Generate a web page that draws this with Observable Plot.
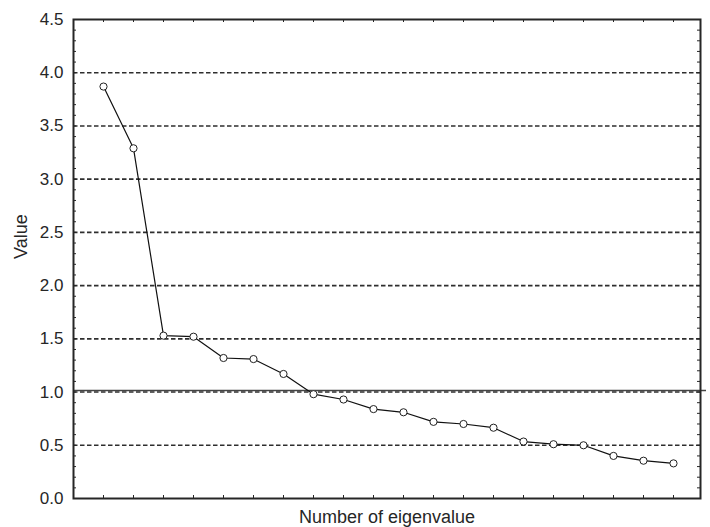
<!DOCTYPE html>
<html>
<head>
<meta charset="utf-8">
<script src="https://cdn.jsdelivr.net/npm/d3@7"></script>
<script src="https://cdn.jsdelivr.net/npm/@observablehq/plot@0.6"></script>
<style>
  html, body { margin: 0; padding: 0; background: #fff; }
  svg { display: block; }
</style>
</head>
<body>
<div id="chart"></div>
<script>
// Data
const eigenNumbers = [1, 2, 3, 4, 5, 6, 7, 8, 9, 10, 11, 12, 13, 14, 15, 16, 17, 18, 19, 20];
const eigenValues = [3.87, 3.29, 1.53, 1.52, 1.32, 1.31, 1.17, 0.98, 0.93, 0.84, 0.81, 0.72, 0.70, 0.665, 0.535, 0.51, 0.50, 0.40, 0.355, 0.33];
const yTickValues = [0, 0.5, 1.0, 1.5, 2.0, 2.5, 3.0, 3.5, 4.0, 4.5];
const gridValues = [0.5, 1.0, 1.5, 2.0, 2.5, 3.0, 3.5, 4.0];
const yMinorTicks = d3.range(0, 46).map(i => i / 10);
const criterionValue = [1.0];
const xLabel = "Number of eigenvalue";
const yLabel = "Value";

const data = eigenNumbers.map((n, i) => ({n, v: eigenValues[i]}));

const W = 710, H = 527;
const mL = 73, mR = 10, mT = 19, mB = 29;
const fw = W - mL - mR, fh = H - mT - mB;
const ink = "#262626";

const chart = Plot.plot({
  width: W,
  height: H,
  marginLeft: mL,
  marginRight: mR,
  marginTop: mT,
  marginBottom: mB,
  style: {fontFamily: "'Liberation Sans', Arial, sans-serif", fontSize: "17px", color: ink, background: "#fff"},
  x: {domain: [0, 20.9], axis: null},
  y: {domain: [0, 4.5], axis: null},
  marks: [
    // dashed grid
    Plot.ruleY(gridValues, {stroke: "#2e2e2e", strokeWidth: 1.6, strokeDasharray: "4.5,2.5"}),
    // criterion line at 1.0
    Plot.ruleY(criterionValue, {stroke: "#444", strokeWidth: 1.6, dy: -1.5, insetRight: -6}),
    // minor ticks left and right (inward)
    Plot.ruleY(yMinorTicks, {stroke: ink, strokeWidth: 1, insetRight: fw - 3}),
    Plot.ruleY(yMinorTicks, {stroke: ink, strokeWidth: 1, insetLeft: fw - 3}),
    // x ticks bottom and top (inward)
    Plot.ruleX(eigenNumbers, {stroke: ink, strokeWidth: 1, insetTop: fh - 3}),
    Plot.ruleX(eigenNumbers, {stroke: ink, strokeWidth: 1, insetBottom: fh - 3}),
    // y tick labels
    Plot.axisY({ticks: yTickValues, tickSize: 0, tickPadding: 10, tickFormat: d => d.toFixed(1), label: null, fontSize: 17}),
    // frame
    Plot.frame({stroke: ink, strokeWidth: 2}),
    // series
    Plot.line(data, {x: "n", y: "v", stroke: "#111", strokeWidth: 1.2}),
    Plot.dot(data, {x: "n", y: "v", r: 3.6, fill: "#fff", stroke: "#222", strokeWidth: 1}),
    // axis titles
    Plot.text([yLabel], {frameAnchor: "left", dx: -52, rotate: -90, fontSize: 18, fill: ink}),
    Plot.text([xLabel], {frameAnchor: "bottom", dy: 12, lineAnchor: "top", fontSize: 18, fill: ink})
  ]
});
document.getElementById("chart").appendChild(chart);
</script>
</body>
</html>
